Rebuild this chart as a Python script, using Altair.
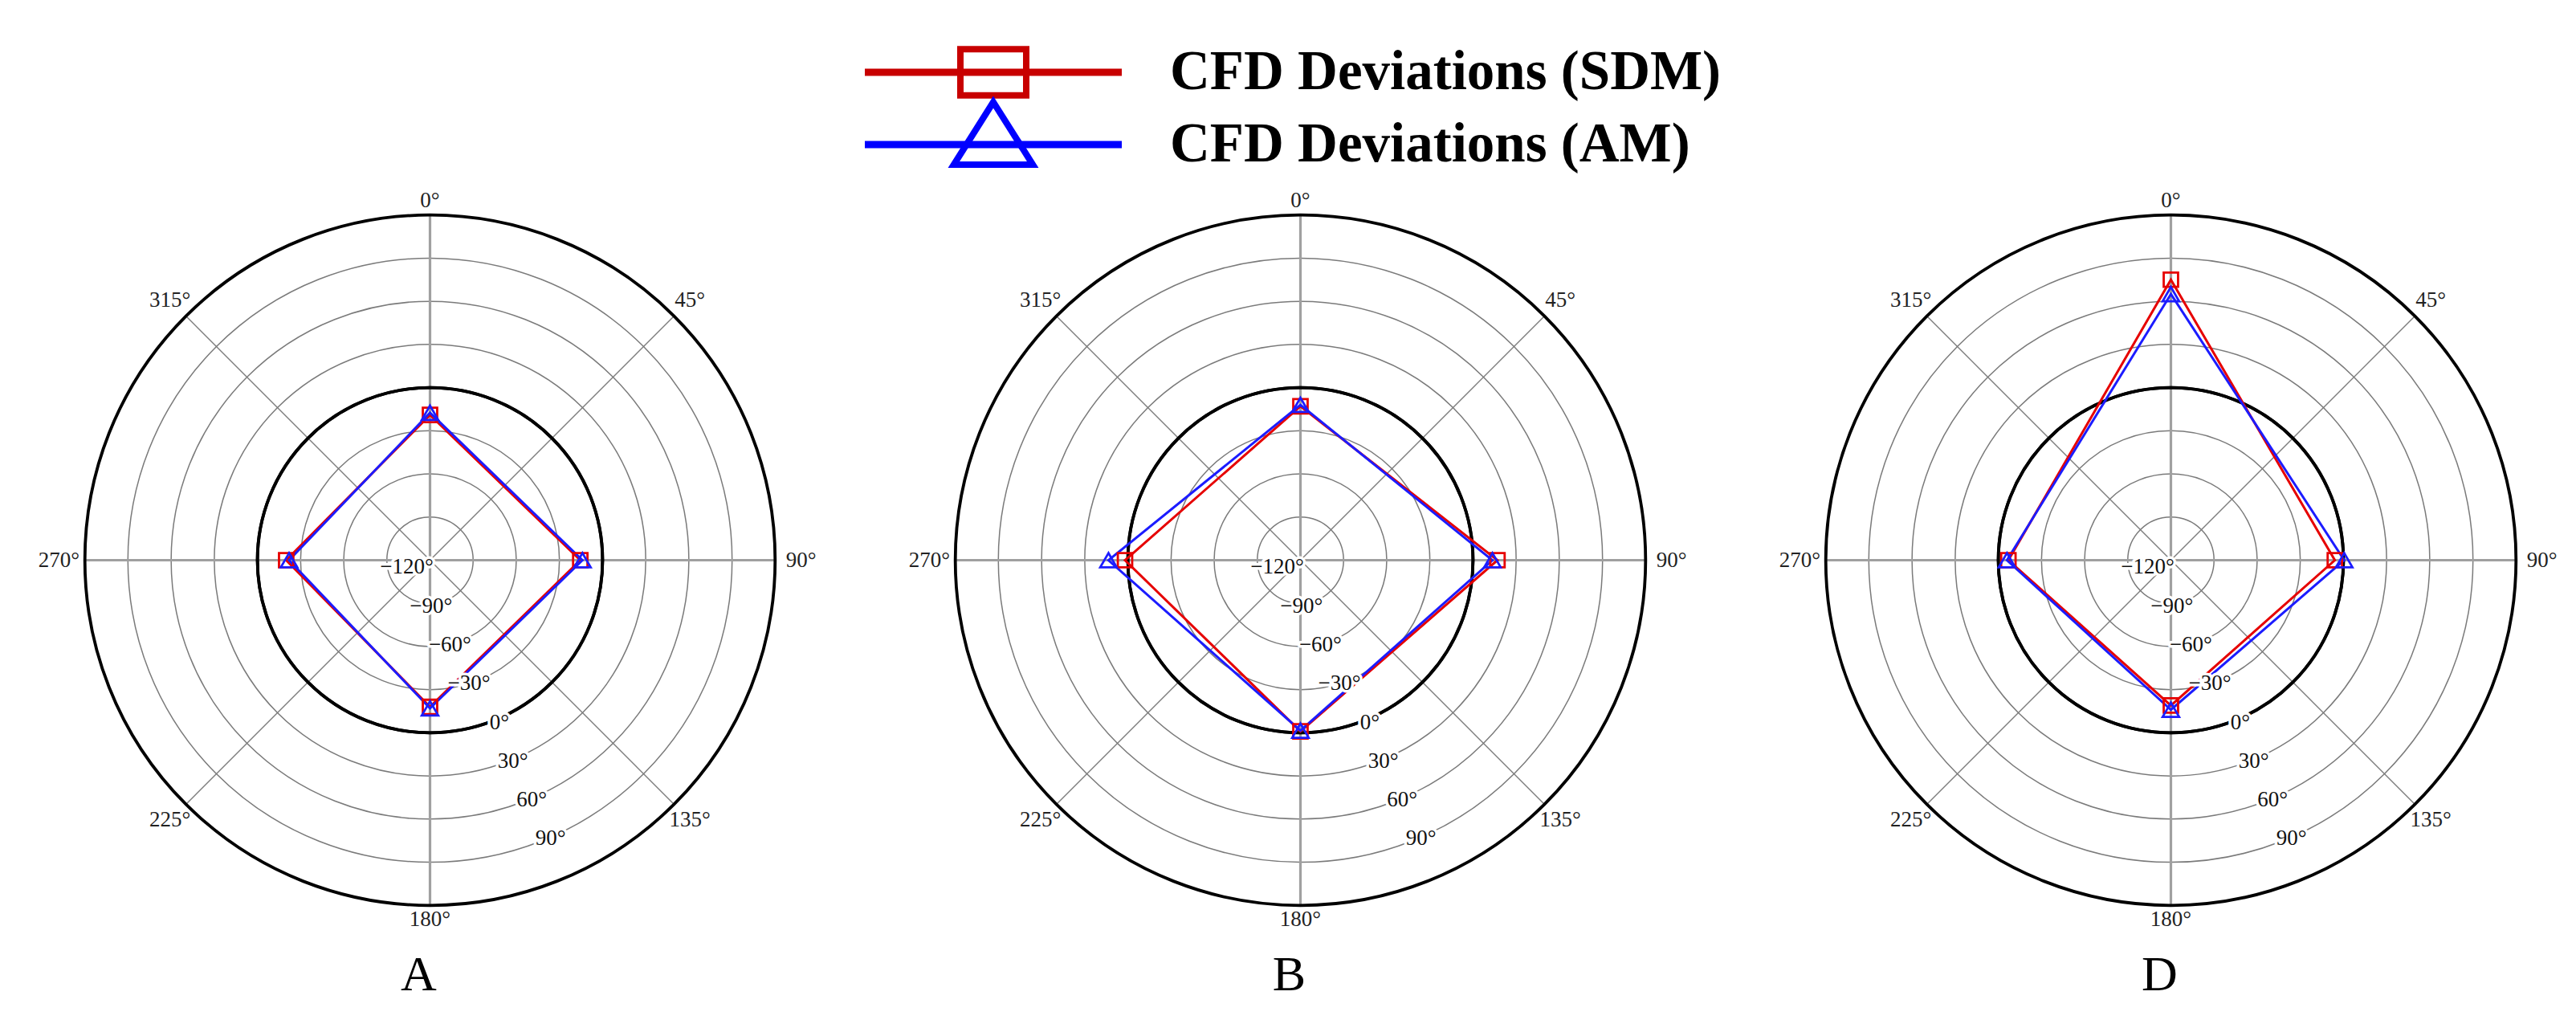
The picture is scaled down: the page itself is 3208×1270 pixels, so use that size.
import math
import altair as alt
import pandas as pd

# ---------------- data ----------------
SERIES = ["CFD Deviations (SDM)", "CFD Deviations (AM)"]
ANGLES = [0, 90, 180, 270]
PANEL_NAMES = ["A", "B", "D"]
SDM_VALUES = [
    [-19, -15.5, -18, -20],
    [-13, 17, -1, 2],
    [75, -6, -19, -7],
]
AM_VALUES = [
    [-17.5, -14, -17, -22],
    [-12, 13.5, -1.5, 13.5],
    [65, 0.5, -16, -6],
]
ANGLE_TICKS = [0, 45, 90, 135, 180, 225, 270, 315]
RADIAL_TICKS = [-120, -90, -60, -30, 0, 30, 60, 90]
THIN_RINGS = [-90, -60, -30, 30, 60, 90]
BOLD_RINGS = [0, 120]
CARDINAL_SPOKES = [0, 90]
DIAGONAL_SPOKES = [45, 135]

# ---------------- style ----------------
R_MIN, R_MAX = -120, 120
D = 275          # half extent of the square plotting domain, in radius units
S = 985          # panel size in px
PANEL_GAP = 99
FONT = "Liberation Serif"
PANEL_COLORS = ["#e60000", "#1c1cff"]
LEGEND_COLORS = ["#c80000", "#0000ff"]
SHAPES = ["square", "triangle-up"]
SIZES = [320, 420]

xs = alt.Scale(domain=[-D, D], nice=False, zero=False)
ys = alt.Scale(domain=[-D, D], nice=False, zero=False)
rs = alt.Scale(type="linear", domain=[R_MIN, R_MIN + D], range=[0, S / 2], nice=False, zero=False)
X = alt.X("px:Q", scale=xs, axis=None)
Y = alt.Y("py:Q", scale=ys, axis=None)
X2 = alt.X2("px2:Q")
Y2 = alt.Y2("py2:Q")


def ring_layer(levels, color, width):
    return alt.Chart(pd.DataFrame({"level": levels})).mark_arc(
        theta=0, theta2=2 * math.pi, fill="transparent", stroke=color, strokeWidth=width
    ).encode(radius=alt.Radius("level:Q", scale=rs, stack=False))


def spoke_layer(angles, color, width):
    outer = R_MAX - R_MIN
    return alt.Chart(pd.DataFrame({"angle": angles})).transform_calculate(
        px=f"{outer} * sin(datum.angle * PI / 180)",
        py=f"{outer} * cos(datum.angle * PI / 180)",
        px2=f"-{outer} * sin(datum.angle * PI / 180)",
        py2=f"-{outer} * cos(datum.angle * PI / 180)",
    ).mark_rule(color=color, strokeWidth=width).encode(x=X, y=Y, x2=X2, y2=Y2)


def angle_labels():
    df = pd.DataFrame({"angle": ANGLE_TICKS, "label": [f"{a}°" for a in ANGLE_TICKS]})
    return alt.Chart(df).transform_calculate(
        rr="250 + 8 * abs(sin(datum.angle * PI / 180))",
    ).transform_calculate(
        px="datum.rr * sin(datum.angle * PI / 180)",
        py="datum.rr * cos(datum.angle * PI / 180)",
    ).mark_text(font=FONT, fontSize=27, color="#222222", align="center", baseline="middle").encode(
        x=X, y=Y, text="label:N"
    )


def radial_labels(halo):
    df = pd.DataFrame({
        "level": RADIAL_TICKS,
        "label": [f"{v}°".replace("-", "\u2212") for v in RADIAL_TICKS],
    })
    base = alt.Chart(df).transform_calculate(
        px=f"(datum.level - ({R_MIN}) + 5.5) * sin(154 * PI / 180)",
        py=f"(datum.level - ({R_MIN}) + 5.5) * cos(154 * PI / 180)",
    )
    if halo:
        m = base.mark_text(font=FONT, fontSize=27, color="white", stroke="white", strokeWidth=7,
                           strokeJoin="round", align="right", baseline="middle")
    else:
        m = base.mark_text(font=FONT, fontSize=27, color="#111111", align="right", baseline="middle")
    return m.encode(x=X, y=Y, text="label:N")


def panel(i):
    layers = [
        ring_layer(THIN_RINGS, "#7a7a7a", 1.5),
        spoke_layer(DIAGONAL_SPOKES, "#7d7d7d", 1.4),
        spoke_layer(CARDINAL_SPOKES, "#a0a0a0", 3.2),
        ring_layer(BOLD_RINGS, "#000000", 3.8),
    ]
    series_vals = [SDM_VALUES[i], AM_VALUES[i]]
    datas = []
    for s, vals in zip(SERIES, series_vals):
        df = pd.DataFrame({"angle": ANGLES, "value": vals, "series": s})
        datas.append(alt.Chart(df).transform_calculate(
            px=f"(datum.value - ({R_MIN})) * sin(datum.angle * PI / 180)",
            py=f"(datum.value - ({R_MIN})) * cos(datum.angle * PI / 180)",
        ))
    for ch, col in zip(datas, PANEL_COLORS):
        layers.append(ch.mark_line(color=col, strokeWidth=3, interpolate="linear-closed").encode(
            x=X, y=Y, order="angle:Q"))
    for ch, col, shp, sz in zip(datas, PANEL_COLORS, SHAPES, SIZES):
        layers.append(ch.mark_point(shape=shp, filled=False, color=col, size=sz, strokeWidth=2.8, opacity=1).encode(
            x=X, y=Y))
    layers += [radial_labels(True), radial_labels(False), angle_labels()]
    return alt.layer(*layers).properties(
        width=S, height=S,
        title=alt.TitleParams(text=PANEL_NAMES[i], orient="bottom", anchor="middle", font=FONT,
                              fontSize=62, fontWeight="normal", color="black", offset=-6, dx=-14),
    )


# ---------------- legend ----------------
LEGEND_W = 3 * S + 2 * PANEL_GAP
RECT_PATH = "M-1,-0.7H1V0.7H-1Z"
TRI_PATH = "M0,-1.29L1.2,0.61H-1.2Z"
leg_df = pd.DataFrame({"series": SERIES})
ly = alt.Y("series:N", scale=alt.Scale(type="point", domain=SERIES, range=[82, 172], padding=0), axis=None)
lcolor = alt.Color("series:N", scale=alt.Scale(domain=SERIES, range=LEGEND_COLORS), legend=None)
leg_lines = alt.Chart(leg_df).mark_rule(strokeWidth=9).encode(
    x=alt.value(1034), x2=alt.value(1354), y=ly, color=lcolor)
leg_marks = alt.Chart(leg_df).mark_point(filled=False, strokeWidth=8, size=6724, opacity=1).encode(
    x=alt.value(1194), y=ly, color=lcolor,
    shape=alt.Shape("series:N", scale=alt.Scale(domain=SERIES, range=[RECT_PATH, TRI_PATH]), legend=None))
leg_text = alt.Chart(leg_df).mark_text(align="left", baseline="middle", font=FONT, fontWeight="bold",
                                       fontSize=69, color="black").encode(
    x=alt.value(1414), y=ly, text="series:N")
legend = alt.layer(leg_lines, leg_marks, leg_text).properties(width=LEGEND_W, height=187)

panels = alt.hconcat(*[panel(i) for i in range(3)], spacing=PANEL_GAP, bounds="flush")

chart = alt.vconcat(legend, panels, spacing=10, bounds="flush").properties(
    padding={"left": 35, "top": 0, "right": 0, "bottom": 0},
    background="white",
).configure_view(strokeWidth=0)

chart.save("out.html", embed_options={"renderer": "svg", "actions": False})
